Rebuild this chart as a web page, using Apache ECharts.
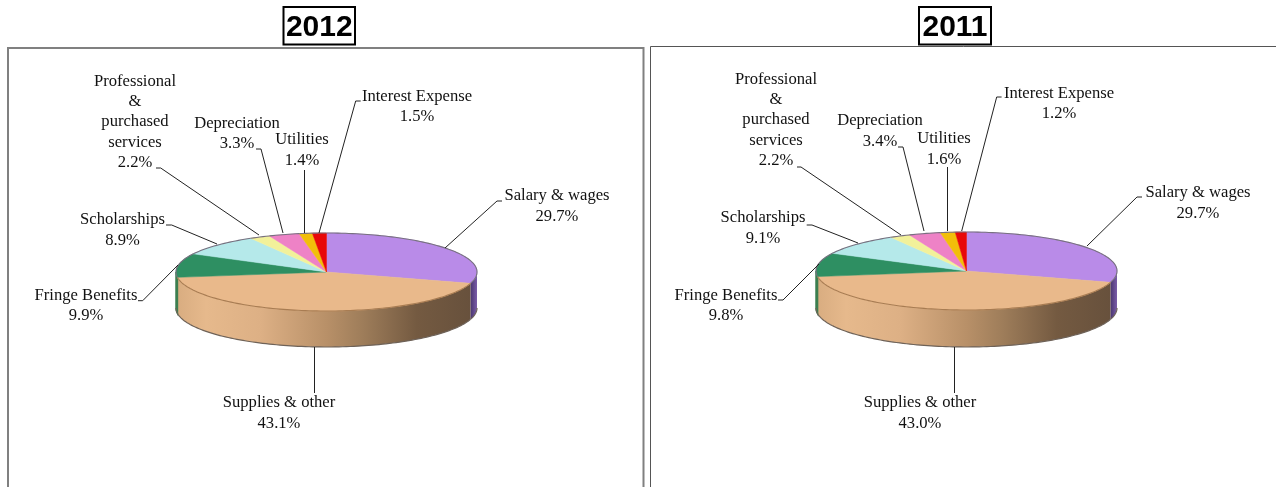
<!DOCTYPE html>
<html>
<head>
<meta charset="utf-8">
<style>html,body{margin:0;padding:0;background:#fff;overflow:hidden}#c{width:1276px;height:487px}</style>
<script src="https://cdn.jsdelivr.net/npm/echarts@6/dist/echarts.min.js"></script>
</head>
<body>
<div id="c"></div>
<script>
// ---- data ----
const categories = ['Salary & wages','Supplies & other','Fringe Benefits','Scholarships','Professional\n&\npurchased\nservices','Depreciation','Utilities','Interest Expense'];
const values2012 = [29.7,43.1,9.9,8.9,2.2,3.3,1.4,1.5];
const values2011 = [29.7,43.0,9.8,9.1,2.2,3.4,1.6,1.2];
const years = ['2012','2011'];

// ---- styling and layout (not data) ----
const topColors  = ['#B98BE8','#E9B98B','#2E8F62','#B5E9EA','#F2F19A','#EE82C6','#F2BE0A','#E80808'];
const sideStops  = [
  [[0,'#7A5CA8'],[1,'#4A3670']],
  [[0,'#D8AC80'],[0.1,'#E6B98C'],[0.28,'#DDB085'],[0.5,'#B89068'],[0.62,'#9E7D5A'],[0.8,'#745A41'],[1,'#66503C']],
  [[0,'#4B8F5F'],[1,'#3C7F50']]
];
const layouts = {
  '2012': {cx:326.5, cy:272, rx:150.5, ry:39, depth:36,
    labels:[[557,186],[279,393],[86,285.5],[122.5,210],[135,71.5],[237,113.5],[302,130],[417,86.5]],
    leaders:[
      [[502,201],[497,201],[445,248]],
      [[314.5,347],[314.5,393]],
      [[138,300.7],[142.7,300.7],[178,265]],
      [[166,225],[171.7,225],[217,244]],
      [[156,168],[160.7,168],[259,235]],
      [[256,149],[261,149],[283,233]],
      [[304.5,170],[304.5,233]],
      [[360.7,101],[355.7,101],[319,233]]
    ]},
  '2011': {cx:966.5, cy:271, rx:150.5, ry:39, depth:37,
    labels:[[1198,183],[920,393],[726,285.5],[763,208],[776,69.5],[880,111],[944,129],[1059,83.5]],
    leaders:[
      [[1142,197],[1137,197],[1087,246]],
      [[954.5,347],[954.5,393]],
      [[778,300],[783,300],[819,264]],
      [[806.7,225],[812,225],[858,243]],
      [[797,167],[801,167],[901,235]],
      [[898,147],[903,147],[924,231]],
      [[947.5,167],[947.5,231]],
      [[1001.6,97],[996.7,97],[961.7,231]]
    ]}
};

function arc(L, a0, a1, dy) {
  const n = Math.max(2, Math.ceil(Math.abs(a1 - a0) * 40)), pts = [];
  for (let k = 0; k <= n; k++) {
    const a = a0 + (a1 - a0) * k / n;
    pts.push([L.cx + L.rx * Math.sin(a), L.cy - L.ry * Math.cos(a) + dy]);
  }
  return pts;
}

function makeSeries(year, values) {
  const L = layouts[year];
  const total = values.reduce((s, v) => s + v, 0);
  const starts = [];
  values.reduce((s, v, i) => (starts[i] = s, s + v), 0);
  return {
    type: 'custom', name: year, coordinateSystem: 'none', silent: true, animation: false, clip: false,
    data: values.map((v, i) => ({name: categories[i], value: v})),
    renderItem(params, api) {
      const i = params.dataIndex, v = api.value(0);
      const a0 = starts[i] / total * Math.PI * 2, a1 = (starts[i] + v) / total * Math.PI * 2;
      const children = [];
      // visible side wall: the part of the rim on the lower half of the ellipse
      const s0 = Math.max(a0, Math.PI / 2), s1 = Math.min(a1, Math.PI * 1.5);
      if (s1 > s0) {
        const upper = arc(L, s0, s1, 0), lower = arc(L, s1, s0, L.depth);
        const bounds = i === 1 ? [L.cx - L.rx, L.cx + L.rx] : [upper[0][0], upper[upper.length - 1][0]];
        children.push({type: 'polygon', z2: i === 2 ? 1.5 : 1, shape: {points: upper.concat(lower)},
          style: {fill: {type: 'linear', x: bounds[0], y: 0, x2: bounds[1], y2: 0, global: true,
            colorStops: sideStops[i].map(s => ({offset: s[0], color: s[1]}))},
            stroke: i === 2 ? '#3C7F50' : null, lineWidth: 1.5}});
        children.push({type: 'polyline', z2: 2, shape: {points: arc(L, s0, s1, L.depth)},
          style: {stroke: '#6E6258', lineWidth: 1.2, fill: null}});
      }
      // top face
      const rim = arc(L, a0, a1, 0);
      children.push({type: 'polygon', z2: 3, shape: {points: [[L.cx, L.cy]].concat(rim)},
        style: {fill: topColors[i], stroke: topColors[i], lineWidth: 0.5}});
      children.push({type: 'polyline', z2: 4, shape: {points: rim},
        style: {stroke: (s0 < s1 && i === 1) ? '#A87C52' : '#77707F', lineWidth: 1.1, fill: null}});
      // leader
      children.push({type: 'polyline', z2: 5, shape: {points: L.leaders[i]},
        style: {stroke: '#222', lineWidth: 1, fill: null}});
      // label
      children.push({type: 'text', z2: 6, x: L.labels[i][0], y: L.labels[i][1],
        style: {text: categories[i] + '\n' + v.toFixed(1) + '%', align: 'center', verticalAlign: 'top',
          font: '16.6px "Liberation Serif"', lineHeight: 20.2, fill: '#111'}});
      return {type: 'group', children};
    }
  };
}

function frame(points, color, width) {
  return {type: 'polyline', shape: {points}, style: {stroke: color, lineWidth: width, fill: null}, silent: true, z: 1};
}
function yearBox(text, x0, x1) {
  return [
    {type: 'rect', shape: {x: x0, y: 7, width: x1 - x0, height: 37.5}, style: {fill: '#fff', stroke: '#000', lineWidth: 2}, z: 2, silent: true},
    {type: 'text', x: (x0 + x1) / 2, y: 28, style: {text, align: 'center', verticalAlign: 'middle', font: 'bold 30px "Liberation Sans"', fill: '#000'}, z: 3, silent: true}
  ];
}

const chart = echarts.init(document.getElementById('c'), null, {renderer: 'canvas'});
chart.setOption({
  backgroundColor: '#fff',
  animation: false,
  graphic: {elements: [
    frame([[8, 487], [8, 48], [643.5, 48], [643.5, 487]], '#808080', 2),
    frame([[650.5, 487], [650.5, 46.5], [1276, 46.5]], '#555', 1),
    ...yearBox(years[0], 283.5, 355),
    ...yearBox(years[1], 919, 991)
  ]},
  series: [makeSeries(years[0], values2012), makeSeries(years[1], values2011)]
});
</script>
</body>
</html>
